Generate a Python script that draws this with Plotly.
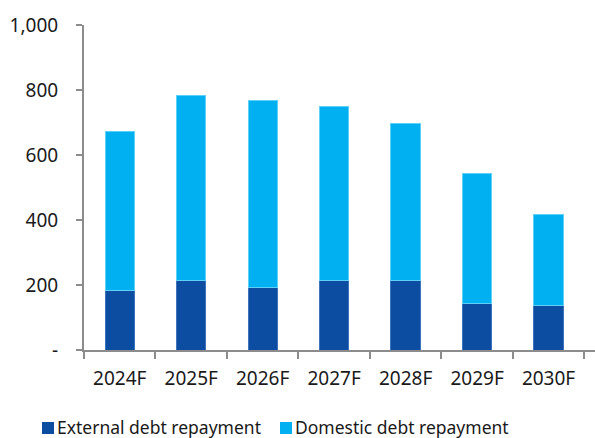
import plotly.graph_objects as go

years = ["2024F", "2025F", "2026F", "2027F", "2028F", "2029F", "2030F"]
external = [182, 214, 191, 215, 213, 142, 138]
domestic = [489, 568, 577, 535, 485, 402, 280]
y_ticks = [0, 200, 400, 600, 800, 1000]
y_labels = ["-", "200", "400", "600", "800", "1,000"]

FONT = "Noto Sans, Open Sans, sans-serif"
AXIS = "#8c8c8c"
TEXT = "#1a1a1a"
DARK = "#0C4DA2"
LIGHT = "#00B0F0"

W, H = 595, 438
L, R, T, B = 84, 0, 25, 88
PW, PH = W - L - R, H - T - B


def px_x(px):
    return (px - L) / PW


def px_y(py):
    return (H - B - py) / PH


fig = go.Figure()
fig.add_trace(go.Bar(
    x=years, y=external, name="External debt repayment",
    marker=dict(color=DARK, line=dict(color="#3f74bd", width=1)),
))
fig.add_trace(go.Bar(
    x=years, y=domestic, name="Domestic debt repayment",
    marker=dict(color=LIGHT, line=dict(color="#5fd0f7", width=1)),
))

# legend drawn as swatches + labels below the axis
legend_items = [("External debt repayment", DARK, 42), ("Domestic debt repayment", LIGHT, 280)]
shapes, annotations = [], []
for label, color, x0 in legend_items:
    shapes.append(dict(
        type="rect", xref="paper", yref="paper",
        x0=px_x(x0), x1=px_x(x0 + 12), y0=px_y(434), y1=px_y(422),
        fillcolor=color, line=dict(width=0),
    ))
    annotations.append(dict(
        text=label, xref="paper", yref="paper", x=px_x(x0 + 14), y=px_y(427),
        xanchor="left", yanchor="middle", showarrow=False, borderpad=0,
        font=dict(family=FONT, size=17.5, color=TEXT),
    ))

fig.update_layout(
    barmode="stack",
    bargap=0.59,
    width=W, height=H,
    margin=dict(l=L, r=R, t=T, b=B),
    paper_bgcolor="white", plot_bgcolor="white",
    font=dict(family=FONT, size=19, color=TEXT),
    showlegend=False,
    shapes=shapes,
    annotations=annotations,
)
fig.update_xaxes(
    range=[-0.5, 6.65], showline=True, linecolor=AXIS, linewidth=2,
    ticks="outside", tickson="boundaries", ticklen=7, tickcolor=AXIS, tickwidth=2,
    showgrid=False, tickfont=dict(size=19), ticklabelstandoff=10, fixedrange=True,
)
fig.update_yaxes(
    range=[0, 1000], tickvals=y_ticks, ticktext=y_labels,
    showline=True, linecolor=AXIS, linewidth=2,
    ticks="outside", ticklen=6, tickcolor=AXIS, tickwidth=2,
    showgrid=False, zeroline=False, tickfont=dict(size=19), ticklabelstandoff=14,
)

fig.write_html("out.html")
